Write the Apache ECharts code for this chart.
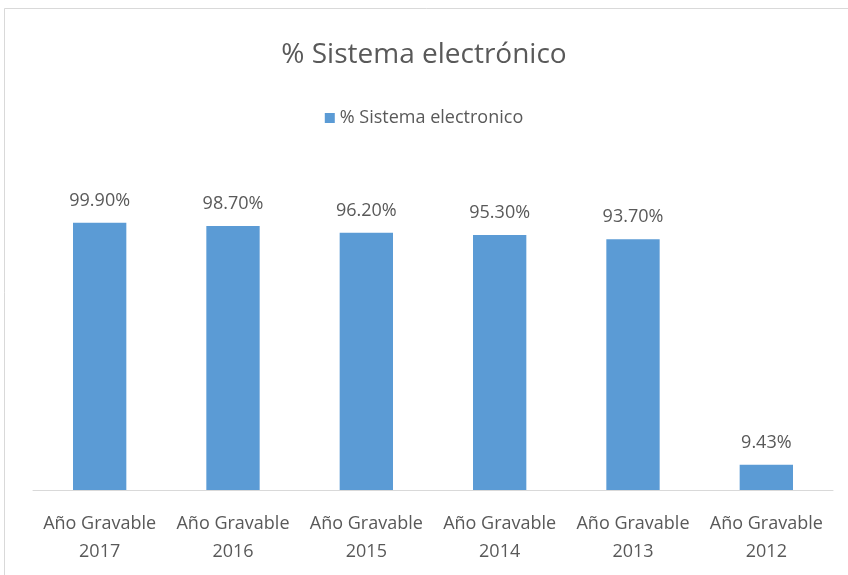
<!DOCTYPE html>
<html><head><meta charset="utf-8">
<script src="https://cdn.jsdelivr.net/npm/echarts@6/dist/echarts.min.js"></script>
<style>html,body{margin:0;padding:0;background:#fff}#c{width:848px;height:575px}</style>
</head><body><div id="c"></div>
<script>
const categories = ['Año Gravable\n2017','Año Gravable\n2016','Año Gravable\n2015','Año Gravable\n2014','Año Gravable\n2013','Año Gravable\n2012'];
const values = [99.90, 98.70, 96.20, 95.30, 93.70, 9.43];
const seriesName = '% Sistema electronico';
const titleText = '% Sistema electrónico';
const FONT = 'Open Sans';
const chart = echarts.init(document.getElementById('c'), null, {renderer:'canvas'});
chart.setOption({
  animation:false,
  backgroundColor:'#fff',
  textStyle:{fontFamily:FONT},
  graphic:[{type:'rect', shape:{x:4.5,y:8.5,width:900,height:700}, style:{fill:null, stroke:'#d9d9d9', lineWidth:1}, silent:true}],
  title:{text:titleText, left:'center', top:36, textStyle:{fontFamily:FONT, fontSize:28, fontWeight:'normal', color:'#595959'}},
  legend:{data:[seriesName], left:'center', top:104, icon:'rect', itemWidth:10, itemHeight:10, itemGap:6,
    textStyle:{fontFamily:FONT, fontSize:18, color:'#595959'}},
  grid:{left:33, right:15, top:169, bottom:85, containLabel:false},
  xAxis:{type:'category', data:categories,
    axisLine:{lineStyle:{color:'#d9d9d9', width:1}}, axisTick:{show:false},
    axisLabel:{fontFamily:FONT, fontSize:18, color:'#595959', lineHeight:28, margin:20, interval:0}},
  yAxis:{type:'value', min:0, max:120, show:false, splitLine:{show:false}},
  series:[{name:seriesName, type:'bar', data:values, barWidth:'40%', itemStyle:{color:'#5B9BD5'},
    label:{show:true, position:'top', distance:13, fontFamily:FONT, fontSize:18, color:'#595959',
      formatter:p=>p.value.toFixed(2)+'%'}}]
});
</script></body></html>
